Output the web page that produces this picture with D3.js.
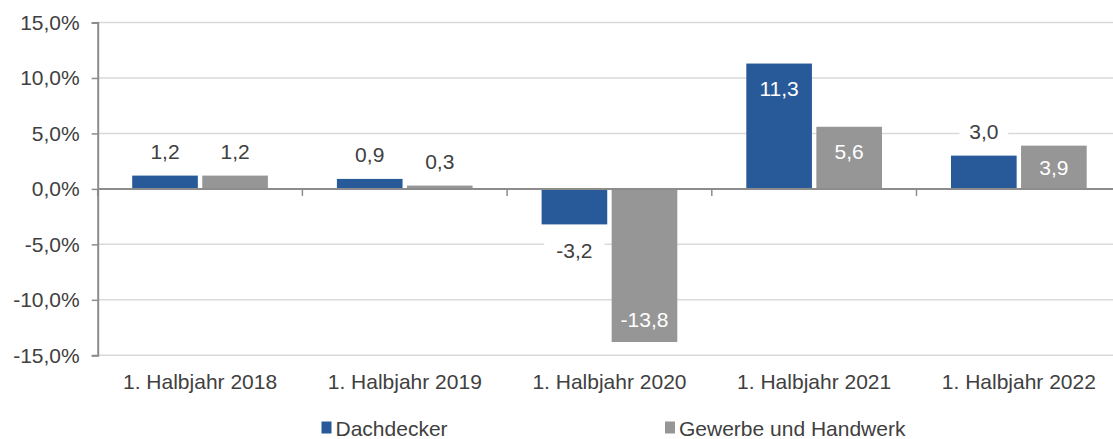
<!DOCTYPE html>
<html>
<head>
<meta charset="utf-8">
<script src="https://cdn.jsdelivr.net/npm/d3@7"></script>
<style>
  html, body { margin: 0; padding: 0; background: #fff; }
  svg { display: block; }
  text { font-family: "Liberation Sans", Arial, sans-serif; }
</style>
</head>
<body>
<svg id="chart" width="1113" height="439"></svg>
<script>
const categories = ["1. Halbjahr 2018", "1. Halbjahr 2019", "1. Halbjahr 2020", "1. Halbjahr 2021", "1. Halbjahr 2022"];
const seriesNames = ["Dachdecker", "Gewerbe und Handwerk"];
const dachdecker = [1.2, 0.9, -3.2, 11.3, 3.0];
const gewerbe = [1.2, 0.3, -13.8, 5.6, 3.9];
const yTicks = [-15, -10, -5, 0, 5, 10, 15];

const colors = { "Dachdecker": "#285a99", "Gewerbe und Handwerk": "#969696" };
const textColor = "#404040";

const svg = d3.select("#chart");
const plotLeft = 97.7, plotRight = 1121.2, plotTop = 22.5, plotBottom = 355.3;

const x0 = d3.scaleBand().domain(categories).range([plotLeft, plotRight]).padding(0);
const bw = x0.bandwidth();
const x1 = d3.scaleBand().domain(seriesNames).range([34.5, bw - 34.5]).paddingInner(0.063).paddingOuter(0);
const y = d3.scaleLinear().domain([-15, 15]).range([plotBottom, plotTop]);

const locale = d3.formatLocale({ decimal: ",", thousands: ".", grouping: [3], currency: ["", " €"], minus: "-" });
const fmt = locale.format(".1f");
const fs = 21;

// gridlines
svg.append("g").selectAll("line").data(yTicks.filter(t => t !== 0)).join("line")
  .attr("x1", plotLeft).attr("x2", 1113)
  .attr("y1", d => y(d)).attr("y2", d => y(d))
  .attr("stroke", "#d9d9d9").attr("stroke-width", 1.5);

// y axis
const yAxis = d3.axisLeft(y).tickValues(yTicks).tickSize(6).tickPadding(12)
  .tickFormat(d => fmt(d) + "%");
const gy = svg.append("g").attr("transform", `translate(${plotLeft},0)`).call(yAxis);
gy.select(".domain").attr("stroke", "#8c8c8c").attr("stroke-width", 2);
gy.selectAll(".tick line").attr("stroke", "#8c8c8c").attr("stroke-width", 1.5);
gy.selectAll(".tick text").attr("fill", textColor).attr("font-size", fs)
  .attr("font-family", "'Liberation Sans', Arial, sans-serif");

// data
const data = categories.map((c, i) => ({
  cat: c,
  vals: [
    { s: seriesNames[0], v: dachdecker[i] },
    { s: seriesNames[1], v: gewerbe[i] }
  ]
}));

const groups = svg.append("g").selectAll("g").data(data).join("g")
  .attr("transform", d => `translate(${x0(d.cat)},0)`);

groups.selectAll("rect").data(d => d.vals).join("rect")
  .attr("x", d => x1(d.s))
  .attr("width", x1.bandwidth())
  .attr("y", d => y(Math.max(0, d.v)))
  .attr("height", d => Math.abs(y(d.v) - y(0)))
  .attr("fill", d => colors[d.s]);

// zero axis line + category ticks
svg.append("line").attr("x1", plotLeft).attr("x2", 1113).attr("y1", y(0)).attr("y2", y(0))
  .attr("stroke", "#8c8c8c").attr("stroke-width", 2);
const xAxis = d3.axisBottom(x0).tickSize(0).tickFormat(d => d);
const catTicks = categories.map(c => x0(c)).concat([plotRight]);
svg.append("g").selectAll("line").data(catTicks).join("line")
  .attr("x1", d => d).attr("x2", d => d)
  .attr("y1", y(0)).attr("y2", y(0) + 7)
  .attr("stroke", "#8c8c8c").attr("stroke-width", 1.5);

// category labels at bottom
const gx = svg.append("g").attr("transform", `translate(0,${plotBottom})`).call(xAxis);
gx.select(".domain").remove();
gx.selectAll(".tick text").attr("fill", textColor).attr("font-size", fs)
  .attr("font-family", "'Liberation Sans', Arial, sans-serif")
  .attr("dy", null).attr("y", 34);

// value labels
const capMid = 0.36 * fs;
groups.each(function (d) {
  const g = d3.select(this);
  d.vals.forEach(e => {
    const cx = x1(e.s) + x1.bandwidth() / 2;
    const inside = Math.abs(e.v) >= 3.5;
    const yEnd = y(e.v), y0 = y(0);
    const h = Math.abs(yEnd - y0);
    let baseline;
    if (inside) {
      const off = Math.min(24.5, h / 2);
      const mid = e.v >= 0 ? yEnd + off : yEnd - off + 2;
      baseline = mid + capMid;
    } else {
      baseline = e.v >= 0 ? yEnd - 17 : yEnd + 33.5;
    }
    if (!inside) {
      const tw = fmt(e.v).length * 11.6;
      g.append("rect")
        .attr("x", cx - tw / 2 - 7).attr("width", tw + 14)
        .attr("y", baseline - 21).attr("height", 27)
        .attr("fill", "#fff");
    }
    g.append("text")
      .attr("x", cx).attr("y", baseline)
      .attr("text-anchor", "middle")
      .attr("font-size", fs)
      .attr("fill", inside ? "#fff" : textColor)
      .text(fmt(e.v));
  });
});

// legend
const legendItems = [
  { s: seriesNames[0], x: 321.5 },
  { s: seriesNames[1], x: 665 }
];
const lg = svg.append("g").selectAll("g").data(legendItems).join("g")
  .attr("transform", d => `translate(${d.x},0)`);
lg.append("rect").attr("x", 0).attr("y", 421.5).attr("width", 10).attr("height", 12)
  .attr("fill", d => colors[d.s]);
lg.append("text").attr("x", 14).attr("y", 436).attr("font-size", fs)
  .attr("fill", textColor).text(d => d.s);
</script>
</body>
</html>
